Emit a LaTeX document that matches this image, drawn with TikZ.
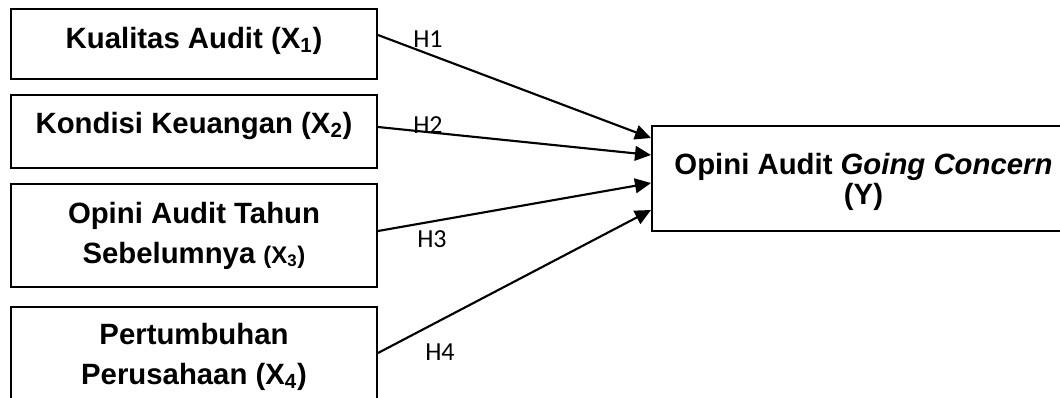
\documentclass[tikz,border=0pt]{standalone}
\usepackage{fontspec}
\setmainfont{Liberation Sans}
\newfontfamily\hypfont{Carlito}
\usetikzlibrary{arrows.meta,calc}

\begin{document}
\begin{tikzpicture}[x=0.75pt,y=-0.75pt,
  box/.style={draw, line width=1.5pt, rectangle, inner sep=0pt},
  lbl/.style={font=\fontsize{22}{29.5}\selectfont\bfseries, align=center, anchor=base, inner sep=0pt},
  hyp/.style={font=\hypfont\fontsize{19.5}{22}\selectfont, anchor=base west, inner sep=0pt},
  link/.style={line width=1.6pt, -{Triangle[length=12pt,width=11pt]}}]

\clip (0,0) rectangle (1060,397);

% independent variables
\node[box, minimum width=274.5pt, minimum height=52.5pt]  (k1) at (194,44)    {};
\node[box, minimum width=274.5pt, minimum height=54.75pt] (k2) at (194,131.5) {};
\node[box, minimum width=274.5pt, minimum height=77.25pt] (k3) at (194,235.5) {};
\node[box, minimum width=274.5pt, minimum height=84.75pt] (k4) at (194,363.5) {};

% dependent variable
\node[box, minimum width=317.25pt, minimum height=78.75pt] (y) at (863.5,178.5) {};

% box texts (base anchor sits on the last line)
\node[lbl] (t1) at (194,48)  {Kualitas Audit (X\textsubscript{1})};
\node[lbl] (t2) at (194,133) {Kondisi Keuangan (X\textsubscript{2})};
\node[lbl] (t3) at (194,263) {Opini Audit Tahun\\Sebelumnya {\fontsize{18}{29.5}\selectfont(X\textsubscript{3})}};
\node[lbl] (t4) at (194,384) {Pertumbuhan\\Perusahaan (X\textsubscript{4})};
\node[lbl, font=\fontsize{22}{22.5}\selectfont\bfseries] (ty) at (863.5,204) {Opini Audit \textit{Going Concern}\\(Y)};

% hypothesis paths
\draw[link] ($(k1.east)+(0,-9)$)   -- ($(y.west)+(0,-40.5)$);
\draw[link] ($(k2.east)+(0,-4.5)$) -- ($(y.west)+(0,-23.5)$);
\draw[link] ($(k3.east)+(0,-4.5)$) -- ($(y.west)+(0,4.5)$);
\draw[link] ($(k4.east)+(0,-10.5)$) -- ($(y.west)+(0,31.5)$);

% hypothesis labels
\node[hyp] (h1) at (413,47)  {H1};
\node[hyp] (h2) at (413,133) {H2};
\node[hyp] (h3) at (417,247) {H3};
\node[hyp] (h4) at (425,360) {H4};
\end{tikzpicture}
\end{document}
